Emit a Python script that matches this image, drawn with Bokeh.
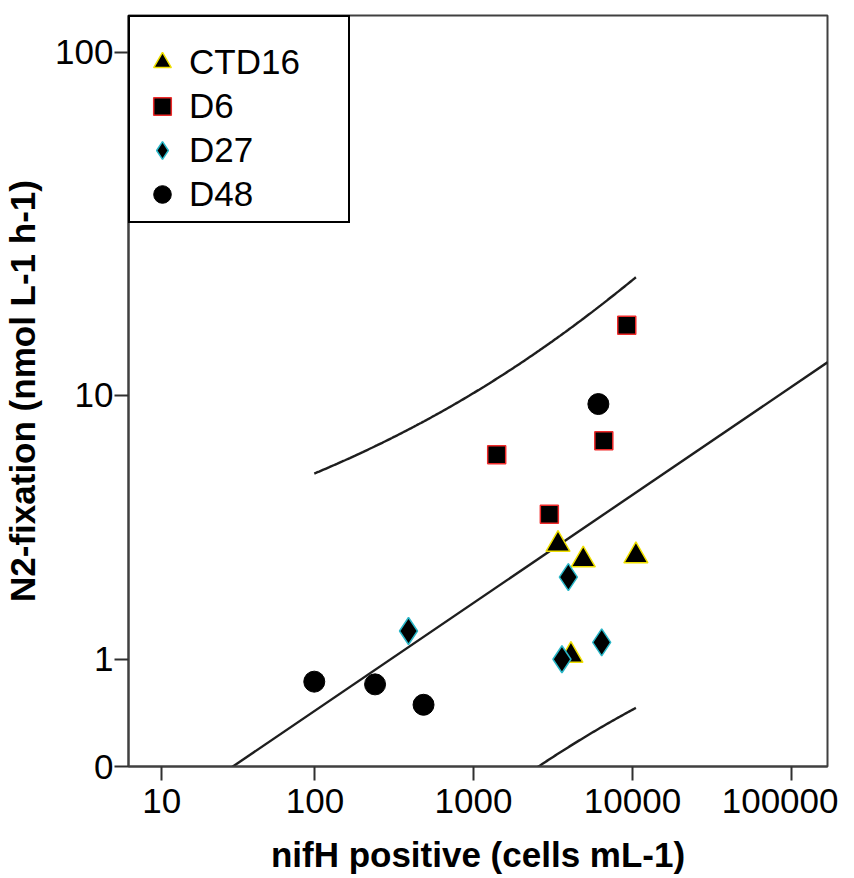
import numpy as np
from bokeh.plotting import figure
from bokeh.models import Range1d, FixedTicker, Legend, LegendItem
from bokeh.embed import file_html
from bokeh.resources import INLINE

# ---- data (nifH positive cells mL-1, N2-fixation nmol L-1 h-1) ----
ctd16_cells = [3400, 4900, 10500, 4100]
ctd16_n2fix = [3.2, 2.8, 2.9, 1.05]
d6_cells = [1400, 3000, 6600, 9200]
d6_n2fix = [6.5, 4.1, 7.2, 16.3]
d27_cells = [390, 3950, 3600, 6400]
d27_n2fix = [1.4, 2.4, 1.0, 1.23]
d48_cells = [99, 240, 485, 6100]
d48_n2fix = [0.73, 0.70, 0.49, 9.4]

series_names = ["CTD16", "D6", "D27", "D48"]

x_tick_values = [10, 100, 1000, 10000, 100000]
y_tick_values = [0, 1, 10, 100]
x_limits = [5.8, 168000]
y_limits = [0, 127]

T_CRIT = 2.145  # Student t (0.975, df = n - 2 = 14) for 95% prediction interval


def tx(v):
    """log10(v + 1) transform used by both axes."""
    return np.log10(np.asarray(v, dtype=float) + 1.0)


# ---- regression in transformed space ----
all_x = tx(ctd16_cells + d6_cells + d27_cells + d48_cells)
all_y = tx(ctd16_n2fix + d6_n2fix + d27_n2fix + d48_n2fix)
n = len(all_x)
slope, intercept = np.polyfit(all_x, all_y, 1)
resid = all_y - (slope * all_x + intercept)
s_err = np.sqrt(np.sum(resid ** 2) / (n - 2))
x_mean = all_x.mean()
sxx = np.sum((all_x - x_mean) ** 2)

xs_band = np.linspace(all_x.min(), all_x.max(), 200)
fit_band = slope * xs_band + intercept
half = T_CRIT * s_err * np.sqrt(1 + 1 / n + (xs_band - x_mean) ** 2 / sxx)

x_lo, x_hi = tx(x_limits)
y_lo, y_hi = tx(y_limits)
xs_line = np.array([x_lo, x_hi])

p = figure(width=838, height=877,
           x_range=Range1d(x_lo, x_hi), y_range=Range1d(y_lo, y_hi),
           output_backend="svg", toolbar_location=None,
           min_border_left=128, min_border_right=11,
           min_border_top=15, min_border_bottom=111)

p.xgrid.visible = False
p.ygrid.visible = False
p.background_fill_color = "white"
p.border_fill_color = "white"
p.outline_line_color = "#404040"
p.outline_line_width = 2

line_col = "#1e1e1e"
p.line(xs_line, slope * xs_line + intercept, line_color=line_col, line_width=2.4)
p.line(xs_band, fit_band + half, line_color=line_col, line_width=2.4)
p.line(xs_band, fit_band - half, line_color=line_col, line_width=2.4)

r1 = p.scatter(tx(ctd16_cells), tx(ctd16_n2fix), marker="triangle", size=24,
               fill_color="black", line_color="#f0e000", line_width=1.5)
r2 = p.scatter(tx(d6_cells), tx(d6_n2fix), marker="square", size=18,
               fill_color="black", line_color="#ee2a2a", line_width=1.5)
r3 = p.scatter(tx(d27_cells), tx(d27_n2fix), marker="diamond", size=27,
               fill_color="black", line_color="#2ab7c8", line_width=1.5)
r4 = p.scatter(tx(d48_cells), tx(d48_n2fix), marker="circle", size=21,
               fill_color="black", line_color="black", line_width=1)

font = "Liberation Sans"
for ax in (p.xaxis[0], p.yaxis[0]):
    ax.axis_line_color = "#404040"
    ax.axis_line_width = 2
    ax.major_tick_line_color = "#303030"
    ax.major_tick_line_width = 2
    ax.major_tick_in = 0
    ax.major_tick_out = 14
    ax.minor_tick_line_color = None
    ax.major_label_text_font = font
    ax.major_label_text_font_size = "35px"
    ax.major_label_text_color = "black"
    ax.axis_label_text_font = font
    ax.axis_label_text_font_size = "35px"
    ax.axis_label_text_font_style = "bold"
    ax.axis_label_text_color = "black"

xt = [float(v) for v in tx(x_tick_values)]
yt = [float(v) for v in tx(y_tick_values)]
p.xaxis.ticker = FixedTicker(ticks=xt)
p.yaxis.ticker = FixedTicker(ticks=yt)
p.xaxis.major_label_overrides = {k: str(v) for k, v in zip(xt, x_tick_values)}
p.yaxis.major_label_overrides = {k: str(v) for k, v in zip(yt, y_tick_values)}
p.xaxis.major_label_standoff = 8
p.yaxis.major_label_standoff = 1
p.xaxis.axis_label = "nifH positive (cells mL-1)"
p.yaxis.axis_label = "N2-fixation (nmol L-1 h-1)"
p.xaxis.axis_label_standoff = 19
p.yaxis.axis_label_standoff = 10

legend = Legend(items=[LegendItem(label=nm, renderers=[r])
                       for nm, r in zip(series_names, [r1, r2, r3, r4])],
                location="top_left", margin=0, padding=5,
                glyph_width=54, glyph_height=44, spacing=0,
                label_standoff=0, label_width=154, label_height=44,
                label_text_font=font, label_text_font_size="35px",
                label_text_color="black",
                border_line_color="black", border_line_width=2,
                border_line_alpha=1.0,
                title=" ", title_text_font_size="10px", title_standoff=7,
                background_fill_color="white", background_fill_alpha=1.0)
p.add_layout(legend)

open("out.html", "w").write(file_html(p, INLINE))
